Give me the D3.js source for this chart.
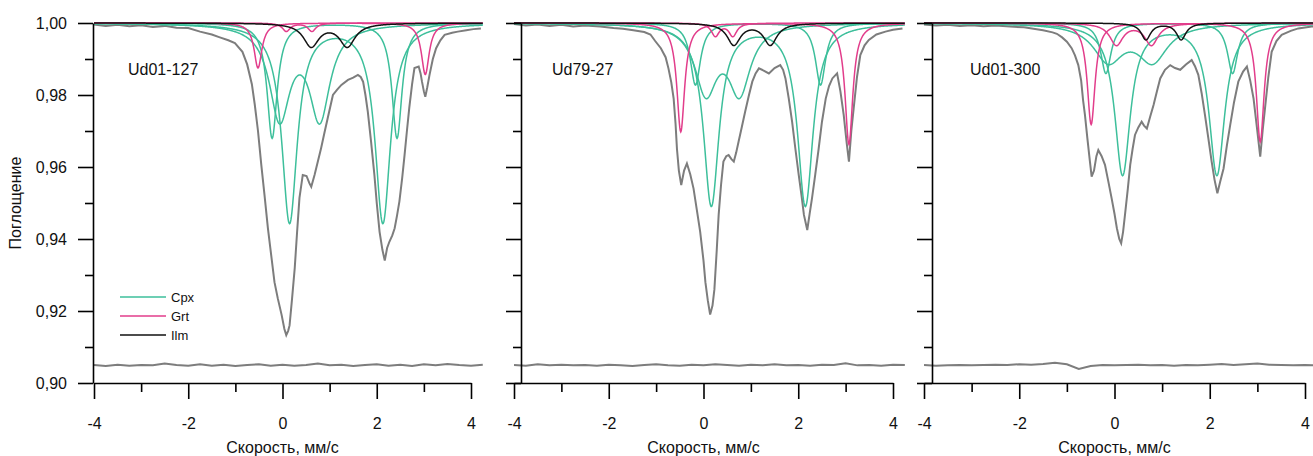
<!DOCTYPE html>
<html>
<head>
<meta charset="utf-8">
<script src="https://cdn.jsdelivr.net/npm/d3@7"></script>
<style>
  body { margin: 0; background: #fff; }
  text { font-family: "Liberation Sans", Arial, sans-serif; }
</style>
</head>
<body>
<svg id="chart" width="1313" height="456"></svg>
<script>
// ---- data ----
// measured spectra: [velocity mm/s, relative absorption]
const spec127 = [[-4.00,0.9996],[-3.75,0.9992],[-3.50,0.9995],[-3.25,0.9991],[-3.00,0.9994],[-2.75,0.9989],[-2.50,0.9992],[-2.25,0.9987],[-2.00,0.9986],[-1.75,0.9976],[-1.50,0.9968],[-1.33,0.9960],[-1.15,0.9952],[-1.01,0.9944],[-0.85,0.9920],[-0.75,0.9885],[-0.65,0.9830],[-0.59,0.9775],[-0.52,0.9700],[-0.45,0.9606],[-0.38,0.9520],[-0.31,0.9430],[-0.24,0.9355],[-0.17,0.9280],[-0.10,0.9235],[-0.02,0.9190],[0.04,0.9150],[0.08,0.9133],[0.12,0.9145],[0.15,0.9160],[0.20,0.9230],[0.26,0.9320],[0.31,0.9420],[0.36,0.9514],[0.43,0.9578],[0.51,0.9575],[0.57,0.9555],[0.61,0.9545],[0.68,0.9578],[0.75,0.9615],[0.82,0.9653],[0.89,0.9695],[0.96,0.9736],[1.07,0.9800],[1.16,0.9815],[1.25,0.9828],[1.39,0.9842],[1.50,0.9848],[1.60,0.9856],[1.66,0.9850],[1.71,0.9837],[1.76,0.9800],[1.81,0.9754],[1.88,0.9670],[1.95,0.9578],[2.00,0.9500],[2.06,0.9420],[2.12,0.9370],[2.17,0.9340],[2.22,0.9375],[2.27,0.9393],[2.33,0.9410],[2.38,0.9430],[2.43,0.9465],[2.48,0.9504],[2.54,0.9570],[2.59,0.9633],[2.64,0.9700],[2.69,0.9764],[2.75,0.9830],[2.80,0.9875],[2.89,0.9879],[2.93,0.9860],[2.96,0.9837],[3.00,0.9810],[3.03,0.9795],[3.07,0.9820],[3.12,0.9856],[3.19,0.9900],[3.26,0.9930],[3.35,0.9952],[3.44,0.9967],[3.60,0.9973],[3.72,0.9976],[3.90,0.9980],[4.05,0.9983],[4.21,0.9985]];

const spec7927 = [[-4.00,0.9997],[-3.75,0.9993],[-3.50,0.9996],[-3.25,0.9992],[-3.00,0.9995],[-2.75,0.9990],[-2.50,0.9993],[-2.18,0.9990],[-1.90,0.9986],[-1.70,0.9984],[-1.48,0.9980],[-1.25,0.9975],[-1.12,0.9968],[-1.02,0.9950],[-0.90,0.9930],[-0.80,0.9905],[-0.74,0.9874],[-0.68,0.9835],[-0.63,0.9790],[-0.59,0.9720],[-0.56,0.9650],[-0.52,0.9590],[-0.47,0.9550],[-0.41,0.9590],[-0.35,0.9610],[-0.28,0.9580],[-0.21,0.9540],[-0.14,0.9480],[-0.07,0.9420],[0.00,0.9340],[0.04,0.9280],[0.09,0.9230],[0.14,0.9190],[0.19,0.9215],[0.23,0.9260],[0.28,0.9370],[0.32,0.9467],[0.37,0.9550],[0.42,0.9615],[0.48,0.9630],[0.53,0.9633],[0.59,0.9622],[0.64,0.9615],[0.69,0.9640],[0.74,0.9670],[0.81,0.9712],[0.88,0.9754],[0.96,0.9800],[1.03,0.9837],[1.10,0.9860],[1.17,0.9874],[1.27,0.9868],[1.38,0.9860],[1.50,0.9875],[1.62,0.9883],[1.68,0.9870],[1.73,0.9846],[1.80,0.9790],[1.87,0.9726],[1.94,0.9650],[2.01,0.9578],[2.07,0.9520],[2.12,0.9467],[2.19,0.9425],[2.24,0.9470],[2.29,0.9513],[2.36,0.9580],[2.43,0.9650],[2.50,0.9725],[2.58,0.9790],[2.65,0.9825],[2.72,0.9846],[2.82,0.9860],[2.89,0.9810],[2.96,0.9744],[3.02,0.9670],[3.07,0.9615],[3.12,0.9700],[3.17,0.9763],[3.24,0.9850],[3.31,0.9911],[3.40,0.9938],[3.49,0.9953],[3.65,0.9968],[3.84,0.9976],[4.00,0.9981],[4.20,0.9985]];

const spec01300 = [[-4.00,0.9996],[-3.75,0.9993],[-3.50,0.9995],[-3.25,0.9992],[-3.00,0.9994],[-2.75,0.9991],[-2.50,0.9993],[-2.19,0.9990],[-1.90,0.9988],[-1.70,0.9984],[-1.50,0.9980],[-1.30,0.9974],[-1.21,0.9970],[-1.10,0.9960],[-1.00,0.9948],[-0.90,0.9930],[-0.83,0.9910],[-0.76,0.9883],[-0.70,0.9840],[-0.66,0.9786],[-0.62,0.9744],[-0.57,0.9680],[-0.52,0.9620],[-0.48,0.9573],[-0.43,0.9590],[-0.38,0.9630],[-0.34,0.9647],[-0.27,0.9630],[-0.20,0.9606],[-0.13,0.9560],[-0.06,0.9513],[0.00,0.9470],[0.05,0.9430],[0.10,0.9400],[0.14,0.9388],[0.18,0.9420],[0.22,0.9467],[0.28,0.9540],[0.33,0.9606],[0.38,0.9650],[0.43,0.9689],[0.50,0.9710],[0.57,0.9726],[0.62,0.9715],[0.68,0.9707],[0.75,0.9740],[0.82,0.9772],[0.89,0.9810],[0.96,0.9846],[1.06,0.9870],[1.17,0.9883],[1.27,0.9875],[1.38,0.9870],[1.50,0.9885],[1.62,0.9897],[1.69,0.9880],[1.76,0.9856],[1.83,0.9805],[1.90,0.9744],[1.97,0.9680],[2.04,0.9615],[2.10,0.9565],[2.16,0.9527],[2.22,0.9560],[2.29,0.9596],[2.36,0.9660],[2.43,0.9717],[2.51,0.9780],[2.60,0.9837],[2.70,0.9865],[2.78,0.9879],[2.85,0.9840],[2.92,0.9790],[2.99,0.9710],[3.06,0.9629],[3.11,0.9700],[3.16,0.9763],[3.23,0.9850],[3.30,0.9920],[3.40,0.9950],[3.51,0.9967],[3.70,0.9978],[3.86,0.9985],[4.14,0.9990],[4.25,0.9991]];

// residuals (difference curve shifted to 0.905)
const residVel = [-4,-3.75,-3.5,-3.25,-3,-2.75,-2.5,-2.25,-2,-1.75,-1.5,-1.25,-1,-0.75,-0.5,-0.25,0,0.25,0.5,0.75,1,1.25,1.5,1.75,2,2.25,2.5,2.75,3,3.25,3.5,3.75,4,4.25];
const resid127 = [0.9050,0.9047,0.9051,0.9048,0.9050,0.9049,0.9054,0.9050,0.9048,0.9052,0.9048,0.9051,0.9047,0.9050,0.9052,0.9048,0.9051,0.9048,0.9050,0.9054,0.9049,0.9051,0.9047,0.9050,0.9052,0.9048,0.9051,0.9047,0.9052,0.9049,0.9053,0.9050,0.9048,0.9051];
const resid7927 = [0.9050,0.9048,0.9052,0.9049,0.9051,0.9049,0.9050,0.9048,0.9051,0.9049,0.9047,0.9050,0.9052,0.9049,0.9048,0.9051,0.9049,0.9052,0.9050,0.9048,0.9051,0.9049,0.9052,0.9049,0.9050,0.9048,0.9051,0.9050,0.9055,0.9049,0.9050,0.9048,0.9051,0.9050];
const resid01300 = [0.9050,0.9048,0.9049,0.9050,0.9049,0.9050,0.9051,0.9050,0.9052,0.9051,0.9053,0.9056,0.9052,0.9039,0.9047,0.9050,0.9049,0.9050,0.9051,0.9049,0.9050,0.9048,0.9050,0.9049,0.9051,0.9053,0.9050,0.9052,0.9054,0.9051,0.9050,0.9049,0.9050,0.9049];

// fitted doublets: [line 1 mm/s, line 2 mm/s, depth 1, depth 2, half width mm/s]
const cpx127 = [[0.15,2.13,0.0552,0.0552,0.20],[-0.22,2.43,0.0320,0.0320,0.13],[-0.06,0.79,0.0258,0.0258,0.265]];
const grt127 = [[-0.52,3.03,0.0125,0.0143,0.10],[0.08,0.625,0.0023,0.0023,0.10]];
const ilm127 = [[0.61,1.375,0.0064,0.0064,0.20]];

const cpx7927 = [[0.165,2.15,0.0505,0.0505,0.20],[-0.17,2.47,0.0172,0.0172,0.13],[0.05,0.76,0.0185,0.0185,0.28]];
const grt7927 = [[-0.48,3.07,0.0302,0.0337,0.10],[0.25,0.62,0.0036,0.0036,0.10]];
const ilm7927 = [[0.64,1.41,0.0060,0.0060,0.17]];

const cpx01300 = [[0.17,2.15,0.0420,0.0420,0.20],[-0.18,2.48,0.0140,0.0140,0.13],[-0.13,0.80,0.0101,0.0101,0.38]];
const grt01300 = [[-0.49,3.06,0.0282,0.0330,0.10],[0.04,0.775,0.0060,0.0060,0.17]];
const ilm01300 = [[0.66,1.40,0.0046,0.0046,0.12]];

const sampleNames = ["Ud01-127", "Ud79-27", "Ud01-300"];
const legendNames = ["Cpx", "Grt", "Ilm"];
const yMajor = [0.90, 0.92, 0.94, 0.96, 0.98, 1.00];
const yMinor = [0.91, 0.93, 0.95, 0.97, 0.99];
const xMajor = [-4, -2, 0, 2, 4];
const xMinor = [-3, -1, 1, 3];

// ---- layout ----
const colors = {Cpx: "#3dbf9b", Grt: "#e23d8b", Ilm: "#111111", data: "#7d7d7d"};
const panels = [
  {spec: spec127, resid: resid127, cpx: cpx127, grt: grt127, ilm: ilm127, x0: 94, x1: 471, yAt: 93, labelX: 128},
  {spec: spec7927, resid: resid7927, cpx: cpx7927, grt: grt7927, ilm: ilm7927, x0: 514, x1: 893, yAt: 521, labelX: 552},
  {spec: spec01300, resid: resid01300, cpx: cpx01300, grt: grt01300, ilm: ilm01300, x0: 924, x1: 1305, yAt: 932, labelX: 970}
];
const plotTop = 23, plotBottom = 383;

const loc = d3.formatLocale({decimal: ",", thousands: " ", grouping: [3], currency: ["", ""], minus: "-"});
const fmtY = loc.format(".2f");
const fmtX = loc.format("d");

const svg = d3.select("#chart");
const y = d3.scaleLinear().domain([0.90, 1.00]).range([plotBottom, plotTop]);

// velocity grid used only to draw the Lorentzian line shapes
const grid = d3.range(-4, 4.2501, 0.01);
function doublet(p) {
  return grid.map(v => [v, 1
    - p[2] / (1 + Math.pow((v - p[0]) / p[4], 2))
    - p[3] / (1 + Math.pow((v - p[1]) / p[4], 2))]);
}

panels.forEach((p, i) => {
  const x = d3.scaleLinear().domain([-4, 4]).range([p.x0, p.x1]);
  const line = d3.line().x(d => x(d[0])).y(d => y(d[1]));
  const g = svg.append("g");

  // measured spectrum and residual
  g.append("path").attr("d", line(p.spec))
    .attr("fill", "none").attr("stroke", colors.data).attr("stroke-width", 2);
  g.append("path").attr("d", line(p.resid.map((r, k) => [residVel[k], r])))
    .attr("fill", "none").attr("stroke", colors.data).attr("stroke-width", 2);

  // fitted components
  [["Cpx", p.cpx], ["Grt", p.grt], ["Ilm", p.ilm]].forEach(([k, arr]) => {
    g.selectAll(null).data(arr).enter().append("path")
      .attr("d", d => line(doublet(d)))
      .attr("fill", "none").attr("stroke", colors[k]).attr("stroke-width", 1.5);
  });

  // axes
  g.append("g").attr("transform", "translate(" + p.yAt + ",0)")
    .call(d3.axisLeft(y).tickValues(yMajor).tickSize(15).tickSizeOuter(0).tickPadding(11)
      .tickFormat(i === 0 ? fmtY : ""));
  g.append("g").attr("transform", "translate(" + p.yAt + ",0)")
    .call(d3.axisLeft(y).tickValues(yMinor).tickSize(8).tickSizeOuter(0).tickFormat(""))
    .select(".domain").remove();

  g.append("g").attr("transform", "translate(0," + plotBottom + ")")
    .call(d3.axisBottom(x).tickValues(xMajor).tickSize(16).tickSizeOuter(0).tickPadding(19).tickFormat(fmtX));
  g.append("g").attr("transform", "translate(0," + plotBottom + ")")
    .call(d3.axisBottom(x).tickValues(xMinor).tickSize(9).tickSizeOuter(0).tickFormat(""))
    .select(".domain").remove();

  g.selectAll(".domain, .tick line").attr("stroke", "#000").attr("stroke-width", 1.6);
  g.selectAll(".tick text").attr("font-size", 16).attr("fill", "#111")
    .attr("font-family", "'Liberation Sans', Arial, sans-serif");

  g.append("text").attr("x", x(0)).attr("y", 453).attr("text-anchor", "middle")
    .attr("font-size", 16).attr("fill", "#111").text("Скорость, мм/с");

  g.append("text").attr("x", p.labelX).attr("y", 75)
    .attr("font-size", 16).attr("fill", "#111").text(sampleNames[i]);
});

// y title
svg.append("text").attr("transform", "translate(21," + (plotTop + plotBottom) / 2 + ") rotate(-90)")
  .attr("text-anchor", "middle").attr("font-size", 16).attr("fill", "#111").text("Поглощение");

// legend (first panel)
const lg = svg.append("g");
legendNames.forEach((n, k) => {
  const ly = 297 + k * 19;
  lg.append("line").attr("x1", 120).attr("x2", 166).attr("y1", ly).attr("y2", ly)
    .attr("stroke", colors[n]).attr("stroke-width", 1.5);
  lg.append("text").attr("x", 171).attr("y", ly).attr("dy", "0.35em")
    .attr("font-size", 13).attr("fill", "#111").text(n);
});
</script>
</body>
</html>
